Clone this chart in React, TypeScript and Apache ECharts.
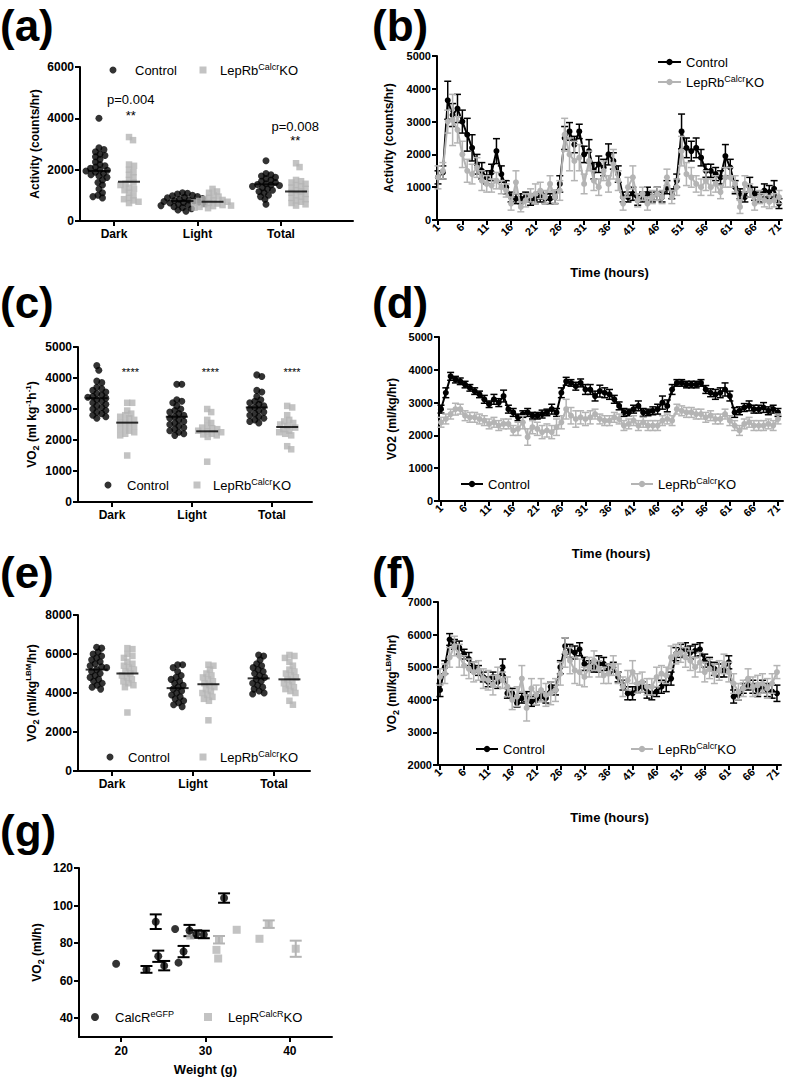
import React, { useEffect, useRef } from 'react';
import * as echarts from 'echarts';

const FONT = 'Liberation Sans, Arial, Helvetica, sans-serif';
const BLACK = '#000000';
const GREY = '#b4b4b4';

const catNames = ['Dark', 'Light', 'Total'];
const timeTicks = [1, 6, 11, 16, 21, 26, 31, 36, 41, 46, 51, 56, 61, 66, 71];

// ---------- (a) Activity swarm ----------
const actCtlDark = [4000, 2850, 2780, 2700, 2600, 2550, 2500, 2400, 2300, 2200, 2150, 2100, 2050, 2000, 1980, 1950, 1900, 1850, 1800, 1750, 1700, 1600, 1500, 1400, 1250, 1100, 1000, 950, 900];
const actKoDark = [3270, 3150, 2200, 2150, 2000, 1900, 1800, 1700, 1600, 1500, 1450, 1400, 1300, 1250, 1200, 1100, 1000, 900, 850, 800, 750, 700];
const actCtlLight = [1100, 1080, 1050, 1000, 980, 950, 920, 900, 880, 850, 820, 800, 780, 760, 740, 720, 700, 680, 650, 620, 600, 560, 520, 480, 430, 380];
const actKoLight = [1250, 1150, 1100, 1000, 950, 900, 850, 820, 800, 780, 750, 720, 700, 680, 650, 620, 600, 580, 550, 520, 500];
const actCtlTotal = [2350, 1850, 1800, 1750, 1700, 1650, 1600, 1550, 1500, 1450, 1420, 1400, 1380, 1350, 1300, 1250, 1200, 1150, 1100, 1000, 950, 850, 650];
const actKoTotal = [2250, 2100, 1600, 1550, 1500, 1450, 1400, 1350, 1300, 1250, 1200, 1150, 1100, 1050, 1000, 950, 900, 850, 800, 750, 700, 650, 600];
const actCtlMeans = [1950, 780, 1430];
const actKoMeans = [1530, 750, 1150];
const actNotes = [
  { name: 'p=0.004', value: [1.2, 4790] },
  { name: '**', value: [1.2, 4130] },
  { name: 'p=0.008', value: [3.17, 3740] },
  { name: '**', value: [3.17, 3160] },
];

// ---------- (c) VO2 swarm ----------
const vo2CtlDark = [4400, 4250, 3900, 3850, 3700, 3650, 3600, 3550, 3500, 3450, 3400, 3380, 3350, 3300, 3250, 3200, 3150, 3100, 3050, 3000, 2950, 2900, 2850, 2800, 2750, 2700];
const vo2KoDark = [3200, 3200, 2950, 2850, 2800, 2750, 2700, 2650, 2600, 2550, 2500, 2450, 2400, 2350, 2300, 2250, 2200, 2150, 1500];
const vo2CtlLight = [3800, 3800, 3300, 3250, 3200, 3100, 3000, 2950, 2900, 2850, 2800, 2750, 2700, 2650, 2600, 2550, 2500, 2450, 2400, 2350, 2300, 2250, 2200, 2150];
const vo2KoLight = [3000, 2900, 2650, 2550, 2450, 2400, 2380, 2350, 2300, 2280, 2250, 2200, 2180, 2150, 2100, 1300];
const vo2CtlTotal = [4100, 4050, 3600, 3550, 3400, 3300, 3250, 3200, 3150, 3100, 3050, 3000, 2950, 2900, 2850, 2800, 2750, 2700, 2650, 2600, 2550];
const vo2KoTotal = [3100, 3050, 2800, 2650, 2600, 2550, 2500, 2450, 2400, 2350, 2300, 2250, 2200, 2150, 1800, 1700];
const vo2CtlMeans = [3350, 2750, 3050];
const vo2KoMeans = [2560, 2280, 2420];
const vo2Notes = [
  { name: '****', value: [1.23, 4220] },
  { name: '****', value: [2.23, 4220] },
  { name: '****', value: [3.25, 4220] },
];

// ---------- (e) VO2 per LBM swarm ----------
const lbmCtlDark = [6350, 6300, 6100, 6000, 5900, 5800, 5700, 5600, 5500, 5400, 5350, 5300, 5200, 5100, 5000, 4900, 4800, 4700, 4600, 4500, 4400, 4300, 4200];
const lbmKoDark = [6300, 6250, 6000, 5900, 5800, 5600, 5500, 5400, 5300, 5200, 5100, 5000, 4900, 4800, 4700, 4600, 4500, 4400, 4300, 3000];
const lbmCtlLight = [5450, 5450, 5300, 5100, 4900, 4800, 4700, 4600, 4500, 4400, 4300, 4200, 4100, 4000, 3900, 3800, 3700, 3600, 3500, 3400, 3300];
const lbmKoLight = [5450, 5400, 5200, 5000, 4900, 4800, 4700, 4600, 4500, 4400, 4300, 4200, 4100, 4000, 3900, 3800, 3700, 3600, 2600];
const lbmCtlTotal = [5950, 5900, 5700, 5500, 5400, 5300, 5200, 5100, 5000, 4900, 4800, 4700, 4600, 4500, 4400, 4300, 4200, 4100, 4000, 3950];
const lbmKoTotal = [5950, 5900, 5800, 5600, 5400, 5200, 5100, 5000, 4900, 4800, 4700, 4600, 4500, 4400, 4300, 4200, 4100, 4000, 3600, 3400];
const lbmCtlMeans = [5200, 4250, 4750];
const lbmKoMeans = [5000, 4450, 4700];

// ---------- (b) Activity time course ----------
const actCtlHr = [1300, 1450, 3650, 3200, 3400, 3000, 2600, 2200, 1700, 1500, 1300, 1450, 2100, 1400, 1000, 700, 650, 650, 700, 600, 650, 700, 650, 650, 700, 1100, 2500, 2700, 2300, 2700, 2000, 2100, 1500, 1700, 1600, 2000, 1800, 1400, 700, 700, 800, 600, 700, 800, 700, 800, 700, 1000, 800, 1200, 2700, 2200, 2100, 2200, 1900, 1500, 1500, 1400, 1300, 1950, 1600, 1000, 800, 700, 1000, 800, 700, 900, 850, 950, 500];
const actCtlHrErr = [200, 200, 580, 350, 430, 350, 500, 400, 300, 250, 200, 250, 380, 250, 200, 150, 150, 150, 150, 150, 150, 150, 150, 150, 200, 250, 350, 270, 250, 220, 250, 350, 250, 250, 250, 320, 250, 250, 150, 150, 200, 150, 150, 200, 150, 200, 150, 200, 150, 200, 530, 300, 300, 300, 250, 200, 200, 200, 200, 350, 250, 200, 150, 150, 300, 200, 150, 200, 200, 250, 150];
const actKoHr = [1300, 1500, 3000, 3050, 2750, 2000, 1500, 1400, 1600, 1200, 1100, 1050, 1200, 1000, 900, 500, 1150, 400, 600, 750, 800, 900, 700, 1100, 700, 900, 2600, 2000, 1800, 1900, 1100, 1800, 1200, 1000, 1500, 1100, 1700, 1200, 500, 1000, 1300, 600, 800, 500, 700, 800, 700, 1300, 700, 1000, 2100, 1400, 1300, 1100, 1000, 1200, 1000, 1100, 850, 1300, 1300, 1100, 400, 1100, 900, 500, 700, 600, 550, 600, 700];
const actKoHrErr = [350, 250, 350, 780, 400, 400, 350, 300, 300, 300, 250, 200, 250, 200, 200, 200, 350, 150, 200, 200, 300, 250, 200, 250, 200, 300, 500, 500, 600, 400, 300, 300, 300, 250, 300, 250, 450, 300, 200, 300, 350, 200, 200, 200, 200, 200, 200, 250, 200, 250, 450, 350, 300, 250, 250, 300, 250, 250, 200, 300, 300, 250, 200, 250, 200, 200, 200, 200, 200, 200, 200];

// ---------- (d) VO2 time course ----------
const vo2CtlHr = [2800, 3300, 3800, 3700, 3650, 3550, 3450, 3350, 3250, 3100, 2950, 3100, 3000, 3200, 2800, 2700, 2550, 2650, 2700, 2600, 2600, 2650, 2700, 2800, 2700, 3300, 3650, 3600, 3500, 3600, 3400, 3400, 3200, 3350, 3300, 3250, 3100, 2900, 2700, 2700, 2800, 2900, 2700, 2700, 2750, 2800, 3000, 2900, 3400, 3600, 3600, 3550, 3550, 3550, 3600, 3400, 3300, 3250, 3300, 3400, 3200, 2700, 2750, 2850, 2900, 2800, 2800, 2850, 2750, 2800, 2700];
const vo2CtlHrErr = [120, 150, 120, 100, 100, 100, 100, 100, 100, 120, 100, 150, 120, 180, 120, 120, 100, 100, 120, 100, 100, 120, 100, 150, 120, 150, 120, 100, 120, 120, 150, 150, 150, 180, 150, 150, 120, 120, 120, 100, 120, 150, 120, 100, 120, 150, 200, 180, 150, 100, 100, 100, 100, 100, 100, 120, 120, 150, 150, 200, 150, 150, 120, 120, 150, 120, 120, 150, 120, 120, 120];
const vo2KoHr = [2400, 2500, 2650, 2800, 2800, 2600, 2550, 2550, 2500, 2450, 2350, 2400, 2300, 2350, 2350, 2150, 2200, 2400, 1950, 2250, 2200, 2100, 2150, 2100, 2250, 2400, 2800, 2600, 2500, 2550, 2500, 2550, 2650, 2500, 2450, 2450, 2550, 2500, 2300, 2350, 2450, 2300, 2400, 2300, 2300, 2300, 2450, 2500, 2450, 2800, 2750, 2700, 2700, 2650, 2650, 2550, 2600, 2500, 2500, 2650, 2450, 2300, 2150, 2350, 2400, 2300, 2300, 2300, 2350, 2300, 2500];
const vo2KoHrErr = [150, 150, 150, 180, 150, 150, 150, 150, 150, 150, 150, 150, 150, 150, 150, 150, 200, 200, 250, 200, 200, 200, 200, 200, 250, 200, 300, 250, 250, 200, 200, 200, 150, 150, 150, 150, 150, 150, 150, 150, 150, 150, 150, 150, 150, 150, 150, 150, 150, 150, 150, 150, 150, 150, 150, 150, 150, 150, 150, 150, 150, 150, 150, 150, 150, 150, 150, 150, 150, 150, 150];

// ---------- (f) VO2/LBM time course ----------
const lbmCtlHr = [4300, 5000, 5850, 5700, 5600, 5400, 5250, 5000, 4900, 4700, 4550, 4700, 4550, 5000, 4200, 4200, 3900, 4050, 4100, 3950, 4000, 4100, 4050, 4400, 4300, 5000, 5650, 5500, 5450, 5550, 5100, 5050, 5000, 5100, 5100, 4950, 5000, 4700, 4450, 4200, 4200, 4350, 4400, 4250, 4200, 4250, 4400, 4500, 4650, 5400, 5500, 5550, 5450, 5500, 5550, 5200, 5100, 4950, 4900, 4900, 5150, 4100, 4150, 4350, 4450, 4400, 4300, 4400, 4300, 4250, 4200];
const lbmCtlHrErr = [200, 200, 180, 150, 200, 150, 200, 150, 150, 150, 150, 150, 200, 250, 150, 150, 120, 150, 150, 150, 150, 150, 150, 150, 150, 200, 250, 200, 200, 200, 200, 150, 150, 250, 200, 150, 150, 150, 150, 200, 200, 150, 150, 200, 200, 150, 200, 250, 200, 200, 200, 200, 200, 200, 200, 200, 200, 200, 200, 200, 200, 200, 150, 150, 150, 200, 200, 200, 200, 200, 250];
const lbmKoHr = [4700, 4800, 5300, 5650, 5350, 5050, 4950, 4850, 4900, 4650, 4600, 4450, 4700, 4600, 4400, 4000, 4100, 4650, 3750, 4350, 4150, 4300, 4150, 4200, 4300, 4800, 5450, 5200, 4900, 4850, 4700, 5000, 5200, 4950, 4750, 4800, 5050, 4800, 4400, 4600, 4850, 4500, 4550, 4400, 4400, 4700, 4800, 4750, 5300, 5400, 5450, 5300, 5200, 5000, 5150, 4850, 4950, 4800, 4900, 5100, 4850, 4500, 4250, 4350, 4650, 4400, 4450, 4500, 4350, 4500, 4850];
const lbmKoHrErr = [250, 300, 300, 300, 350, 300, 300, 300, 300, 300, 300, 300, 300, 250, 300, 300, 300, 400, 400, 300, 300, 350, 350, 350, 350, 350, 450, 400, 400, 400, 300, 300, 300, 250, 250, 300, 300, 300, 300, 300, 350, 300, 300, 250, 250, 300, 250, 250, 350, 300, 300, 300, 300, 300, 300, 300, 300, 300, 300, 300, 300, 300, 250, 250, 300, 300, 300, 300, 300, 300, 200];

// ---------- (g) VO2 vs weight: [weight, VO2, SEM] ----------
const gCalcR = [[19.4, 69, 0], [23.0, 66, 1.8], [24.1, 91.4, 3.9], [24.4, 73, 3], [25.1, 68, 2.5], [26.4, 87.5, 0], [26.8, 69.6, 0], [27.4, 75.5, 3], [28.1, 86.7, 3], [28.9, 84.8, 2], [29.8, 84.6, 2], [32.2, 104, 2.5]];
const gKO = [[28.2, 84, 0], [31.3, 76.4, 0], [31.5, 71.8, 0], [31.6, 81.8, 2], [33.7, 87.1, 0], [36.4, 82.3, 0], [37.5, 90.1, 2], [40.7, 77, 4.3]];

const legendText: Record<string, string> = {
  aCtl: 'Control', aKo: 'LepRb{s|Calcr}KO',
  bCtl: 'Control', bKo: 'LepRb{s|Calcr}KO',
  cCtl: 'Control', cKo: 'LepRb{s|Calcr}KO',
  dCtl: 'Control', dKo: 'LepRb{s|Calcr}KO',
  eCtl: 'Control', eKo: 'LepRb{s|Calcr}KO',
  fCtl: 'Control', fKo: 'LepRb{s|Calcr}KO',
  gCtl: 'CalcR{s|eGFP}', gKo: 'LepR{s|CalcR}KO',
};

function swarm(vals: number[], center: number, pxX: number, pxY: number, dist: number) {
  const placed: number[][] = [];
  const out: number[][] = [];
  const sorted = vals.slice().sort((a, b) => b - a);
  for (const v of sorted) {
    const py = v * pxY;
    let best = 0;
    for (let k = 0; k < 120; k++) {
      const cands = k === 0 ? [0] : [k * 0.5, -k * 0.5];
      let found: number | null = null;
      for (const cx of cands) {
        if (placed.every((p) => (p[0] - cx) ** 2 + (p[1] - py) ** 2 >= dist * dist)) {
          found = cx;
          break;
        }
      }
      if (found !== null) {
        best = found;
        break;
      }
    }
    placed.push([best, py]);
    out.push([center + best / pxX, v]);
  }
  return out;
}

const errRender = (color: string, cap: number, lw: number) => (params: any, api: any) => {
  const x = api.value(0);
  const lo = api.value(1);
  const hi = api.value(2);
  if (hi === lo) return { type: 'group', children: [] };
  const a = api.coord([x, lo]);
  const b = api.coord([x, hi]);
  const style = { stroke: color, lineWidth: lw, fill: 'none' };
  return {
    type: 'group',
    children: [
      { type: 'line', shape: { x1: a[0], y1: a[1], x2: b[0], y2: b[1] }, style },
      { type: 'line', shape: { x1: b[0] - cap, y1: b[1], x2: b[0] + cap, y2: b[1] }, style },
      { type: 'line', shape: { x1: a[0] - cap, y1: a[1], x2: a[0] + cap, y2: a[1] }, style },
    ],
  };
};

function swarmSeries(p: string, gi: number, ctl: number[][], ko: number[][], ctlMean: number[], koMean: number[], pxX: number, pxY: number, off: number) {
  const ctlPts = ctl.flatMap((vals, i) => swarm(vals, i + 1 - off, pxX, pxY, 5));
  const koPts = ko.flatMap((vals, i) => swarm(vals, i + 1 + off, pxX, pxY, 5));
  return [
    { name: p + 'Ctl', type: 'scatter', xAxisIndex: gi, yAxisIndex: gi, data: ctlPts, symbol: 'circle', symbolSize: 7, color: BLACK, itemStyle: { color: BLACK }, z: 3 },
    { name: p + 'Ko', type: 'scatter', xAxisIndex: gi, yAxisIndex: gi, data: koPts, symbol: 'rect', symbolSize: 6.5, color: GREY, itemStyle: { color: GREY }, z: 3 },
    { type: 'scatter', xAxisIndex: gi, yAxisIndex: gi, data: ctlMean.map((m, i) => [i + 1 - off, m]), symbol: 'rect', symbolSize: [22, 2], color: BLACK, itemStyle: { color: BLACK }, z: 5, silent: true },
    { type: 'scatter', xAxisIndex: gi, yAxisIndex: gi, data: koMean.map((m, i) => [i + 1 + off, m]), symbol: 'rect', symbolSize: [22, 2], color: BLACK, itemStyle: { color: BLACK }, z: 5, silent: true },
  ];
}

function timeSeries(p: string, gi: number, ctl: number[], ctlErr: number[], ko: number[], koErr: number[]) {
  const mk = (vals: number[]) => vals.map((v, i) => [i + 1, v]);
  const mkErr = (vals: number[], errs: number[]) => vals.map((v, i) => [i + 1, v - errs[i], v + errs[i]]);
  return [
    { type: 'custom', xAxisIndex: gi, yAxisIndex: gi, renderItem: errRender(BLACK, 3.5, 1.5), data: mkErr(ctl, ctlErr), encode: { x: 0, y: [1, 2] }, z: 2, silent: true },
    { name: p + 'Ctl', type: 'line', xAxisIndex: gi, yAxisIndex: gi, data: mk(ctl), symbol: 'circle', symbolSize: 6, color: BLACK, lineStyle: { color: BLACK, width: 2 }, itemStyle: { color: BLACK }, z: 3 },
    { type: 'custom', xAxisIndex: gi, yAxisIndex: gi, renderItem: errRender(GREY, 3.5, 1.5), data: mkErr(ko, koErr), encode: { x: 0, y: [1, 2] }, z: 4, silent: true },
    { name: p + 'Ko', type: 'line', xAxisIndex: gi, yAxisIndex: gi, data: mk(ko), symbol: 'circle', symbolSize: 6, color: GREY, lineStyle: { color: GREY, width: 2 }, itemStyle: { color: GREY }, z: 5 },
  ];
}

function noteSeries(gi: number, notes: any[], fontSize: number) {
  return {
    type: 'scatter', xAxisIndex: gi, yAxisIndex: gi, data: notes, symbol: 'circle', symbolSize: 0,
    color: BLACK, itemStyle: { color: BLACK, opacity: 1 }, silent: true, z: 6,
    label: {
      show: true, position: 'top', distance: -fontSize / 2 - 1, formatter: '{b}', color: BLACK, opacity: 1,
      fontSize, fontFamily: FONT, textBorderWidth: 0, textBorderColor: 'rgba(0,0,0,0)', textShadowBlur: 0,
    },
  };
}

const nameRich = {
  sub: { fontSize: 9, fontWeight: 'bold', fontFamily: FONT, color: BLACK, verticalAlign: 'bottom', lineHeight: 9 },
  sup: { fontSize: 8, fontWeight: 'bold', fontFamily: FONT, color: BLACK, verticalAlign: 'top', lineHeight: 8 },
};

const plain = (v: number) => String(v);

function yAxis(gi: number, min: number, max: number, interval: number, name: string, nameGap: number, fs: number) {
  return {
    type: 'value', gridIndex: gi, min, max, interval, name, nameLocation: 'middle', nameGap,
    nameTextStyle: { color: BLACK, fontWeight: 'bold', fontSize: 12, fontFamily: FONT, lineHeight: 16, rich: nameRich },
    axisLine: { show: true, lineStyle: { color: BLACK, width: 2 } },
    axisTick: { show: true, length: 5, lineStyle: { color: BLACK, width: 2 } },
    axisLabel: { color: BLACK, fontWeight: 'bold', fontSize: fs, fontFamily: FONT, margin: 6, formatter: plain },
    splitLine: { show: false },
  };
}

function catAxis(gi: number, min: number, max: number) {
  return {
    type: 'value', gridIndex: gi, min, max,
    axisLine: { show: true, onZero: false, lineStyle: { color: BLACK, width: 2 } },
    axisTick: { show: true, length: 5, lineStyle: { color: BLACK, width: 2 }, customValues: [1, 2, 3] },
    axisLabel: { color: BLACK, fontWeight: 'bold', fontSize: 12, fontFamily: FONT, margin: 7, customValues: [1, 2, 3], formatter: (v: number) => catNames[Math.round(v) - 1] },
    splitLine: { show: false },
  };
}

function timeAxis(gi: number, min: number, max: number) {
  return {
    type: 'value', gridIndex: gi, min, max, name: 'Time (hours)', nameLocation: 'middle', nameGap: 46,
    nameTextStyle: { color: BLACK, fontWeight: 'bold', fontSize: 13, fontFamily: FONT },
    axisLine: { show: true, onZero: false, lineStyle: { color: BLACK, width: 2 } },
    axisTick: { show: true, length: 5, lineStyle: { color: BLACK, width: 2 }, customValues: timeTicks },
    axisLabel: { color: BLACK, fontWeight: 'bold', fontSize: 11, fontFamily: FONT, margin: 5, rotate: 45, customValues: timeTicks, formatter: plain },
    splitLine: { show: false },
  };
}

// Symbol legend: icon centred at cx, text starting at tx, row centred at cy
function symbolLegend(name: string, icon: string, cx: number, tx: number, cy: number, size: number) {
  const pad = tx - (cx + size / 2) - 5;
  return {
    data: [{ name, icon }], left: cx - size / 2, top: cy - 8, itemWidth: size, itemHeight: size, padding: 0, selectedMode: false,
    formatter: (n: string) => legendText[n],
    textStyle: {
      color: BLACK, fontSize: 13, fontFamily: FONT, lineHeight: 16, padding: [0, 0, 0, pad],
      rich: { s: { fontSize: 9, fontFamily: FONT, color: BLACK, verticalAlign: 'top', lineHeight: 9 } },
    },
  };
}

// Line legend: icon from x0 spanning w, row centred at cy
function lineLegend(name: string, x0: number, w: number, cy: number) {
  return {
    data: [{ name }], left: x0, top: cy - 8, itemWidth: w, itemHeight: 8, padding: 0, selectedMode: false,
    formatter: (n: string) => legendText[n],
    textStyle: {
      color: BLACK, fontSize: 13, fontFamily: FONT, lineHeight: 16,
      rich: { s: { fontSize: 9, fontFamily: FONT, color: BLACK, verticalAlign: 'top', lineHeight: 9 } },
    },
  };
}

function panelLabel(text: string, x: number, y: number) {
  return { type: 'text', x, y, style: { text, fontSize: 44, fontWeight: 'bold', fontFamily: FONT, fill: BLACK, align: 'left', verticalAlign: 'top' } };
}

function buildOption() {
  const series: any[] = [
    ...swarmSeries('a', 0, [actCtlDark, actCtlLight, actCtlTotal], [actKoDark, actKoLight, actKoTotal], actCtlMeans, actKoMeans, 83.5, 154 / 6000, 0.18),
    noteSeries(0, actNotes, 13),
    ...timeSeries('b', 1, actCtlHr, actCtlHrErr, actKoHr, actKoHrErr),
    ...swarmSeries('c', 2, [vo2CtlDark, vo2CtlLight, vo2CtlTotal], [vo2KoDark, vo2KoLight, vo2KoTotal], vo2CtlMeans, vo2KoMeans, 80, 155 / 5000, 0.19),
    noteSeries(2, vo2Notes, 11),
    ...timeSeries('d', 3, vo2CtlHr, vo2CtlHrErr, vo2KoHr, vo2KoHrErr),
    ...swarmSeries('e', 4, [lbmCtlDark, lbmCtlLight, lbmCtlTotal], [lbmKoDark, lbmKoLight, lbmKoTotal], lbmCtlMeans, lbmKoMeans, 81, 156 / 8000, 0.19),
    ...timeSeries('f', 5, lbmCtlHr, lbmCtlHrErr, lbmKoHr, lbmKoHrErr),
    { type: 'custom', xAxisIndex: 6, yAxisIndex: 6, renderItem: errRender(BLACK, 6, 2), data: gCalcR.map((d) => [d[0], d[1] - d[2], d[1] + d[2]]), encode: { x: 0, y: [1, 2] }, z: 2, silent: true },
    { type: 'custom', xAxisIndex: 6, yAxisIndex: 6, renderItem: errRender(GREY, 6, 2), data: gKO.map((d) => [d[0], d[1] - d[2], d[1] + d[2]]), encode: { x: 0, y: [1, 2] }, z: 2, silent: true },
    { name: 'gKo', type: 'scatter', xAxisIndex: 6, yAxisIndex: 6, data: gKO.map((d) => [d[0], d[1]]), symbol: 'rect', symbolSize: 8, color: GREY, itemStyle: { color: GREY }, z: 3 },
    { name: 'gCtl', type: 'scatter', xAxisIndex: 6, yAxisIndex: 6, data: gCalcR.map((d) => [d[0], d[1]]), symbol: 'circle', symbolSize: 8, color: BLACK, itemStyle: { color: BLACK }, z: 4 },
  ];

  return {
    animation: false,
    backgroundColor: '#ffffff',
    color: [BLACK, GREY],
    textStyle: { fontFamily: FONT },
    grid: [
      { left: 80, top: 67, width: 273, height: 154, outerBoundsMode: 'none' },
      { left: 437, top: 56, width: 345, height: 164, outerBoundsMode: 'none' },
      { left: 78, top: 347, width: 234, height: 155, outerBoundsMode: 'none' },
      { left: 439, top: 337, width: 344, height: 164, outerBoundsMode: 'none' },
      { left: 78, top: 615, width: 232, height: 156, outerBoundsMode: 'none' },
      { left: 438, top: 602, width: 343, height: 163, outerBoundsMode: 'none' },
      { left: 79, top: 868, width: 253, height: 169, outerBoundsMode: 'none' },
    ],
    xAxis: [
      catAxis(0, 0.593, 3.862),
      timeAxis(1, 0.795, 71.62),
      catAxis(2, 0.575, 3.5),
      timeAxis(3, 0.585, 72.04),
      catAxis(4, 0.58, 3.444),
      timeAxis(5, 0.585, 71.84),
      {
        type: 'value', gridIndex: 6, min: 15, max: 45, name: 'Weight (g)', nameLocation: 'middle', nameGap: 26,
        nameTextStyle: { color: BLACK, fontWeight: 'bold', fontSize: 13, fontFamily: FONT },
        axisLine: { show: true, onZero: false, lineStyle: { color: BLACK, width: 2 } },
        axisTick: { show: true, length: 5, lineStyle: { color: BLACK, width: 2 }, customValues: [20, 30, 40] },
        axisLabel: { color: BLACK, fontWeight: 'bold', fontSize: 12, fontFamily: FONT, margin: 8, customValues: [20, 30, 40], formatter: plain },
        splitLine: { show: false },
      },
    ],
    yAxis: [
      yAxis(0, 0, 6000, 2000, 'Activity (counts/hr)', 36, 12),
      yAxis(1, 0, 5000, 1000, 'Activity (counts/hr)', 40, 11),
      yAxis(2, 0, 5000, 1000, 'VO{sub|2} (ml kg{sup|-1}h{sup|-1})', 38, 12),
      yAxis(3, 0, 5000, 1000, 'VO2 (ml/kg/hr)', 39, 11),
      yAxis(4, 0, 8000, 2000, 'VO{sub|2} (ml/kg{sup|LBM}/hr)', 38, 12),
      yAxis(5, 2000, 7000, 1000, 'VO{sub|2} (ml/kg{sup|LBM}/hr)', 38, 11),
      {
        ...yAxis(6, 30, 120, 10, 'VO{sub|2} (ml/h)', 34, 12),
        interval: undefined,
        axisTick: { show: true, length: 5, lineStyle: { color: BLACK, width: 2 }, customValues: [40, 60, 80, 100, 120] },
        axisLabel: { color: BLACK, fontWeight: 'bold', fontSize: 12, fontFamily: FONT, margin: 6, customValues: [40, 60, 80, 100, 120], formatter: plain },
      },
    ],
    legend: [
      symbolLegend('aCtl', 'circle', 113, 135, 70, 7),
      symbolLegend('aKo', 'rect', 203, 220, 70, 7),
      lineLegend('bCtl', 657, 23, 62),
      lineLegend('bKo', 657, 23, 82),
      symbolLegend('cCtl', 'circle', 108, 127, 485, 7),
      symbolLegend('cKo', 'rect', 197, 213, 485, 7),
      lineLegend('dCtl', 460, 22, 484),
      lineLegend('dKo', 630, 22, 484),
      symbolLegend('eCtl', 'circle', 110, 128, 757, 7),
      symbolLegend('eKo', 'rect', 203, 220, 757, 7),
      lineLegend('fCtl', 475, 22, 749),
      lineLegend('fKo', 630, 22, 749),
      symbolLegend('gCtl', 'circle', 95, 115, 1017, 8),
      symbolLegend('gKo', 'rect', 208, 228, 1017, 8),
    ],
    graphic: [
      panelLabel('(a)', 0, 3),
      panelLabel('(b)', 372, 3),
      panelLabel('(c)', 0, 280),
      panelLabel('(d)', 372, 280),
      panelLabel('(e)', 0, 550),
      panelLabel('(f)', 372, 550),
      panelLabel('(g)', 0, 808),
    ],
    series,
  };
}

export default function App() {
  const ref = useRef<HTMLDivElement>(null);
  useEffect(() => {
    document.body.style.margin = '0';
    const chart = echarts.init(ref.current as HTMLDivElement, null, { renderer: 'svg' });
    chart.setOption(buildOption() as any);
    return () => chart.dispose();
  }, []);
  return <div ref={ref} style={{ width: 785, height: 1080 }} />;
}
